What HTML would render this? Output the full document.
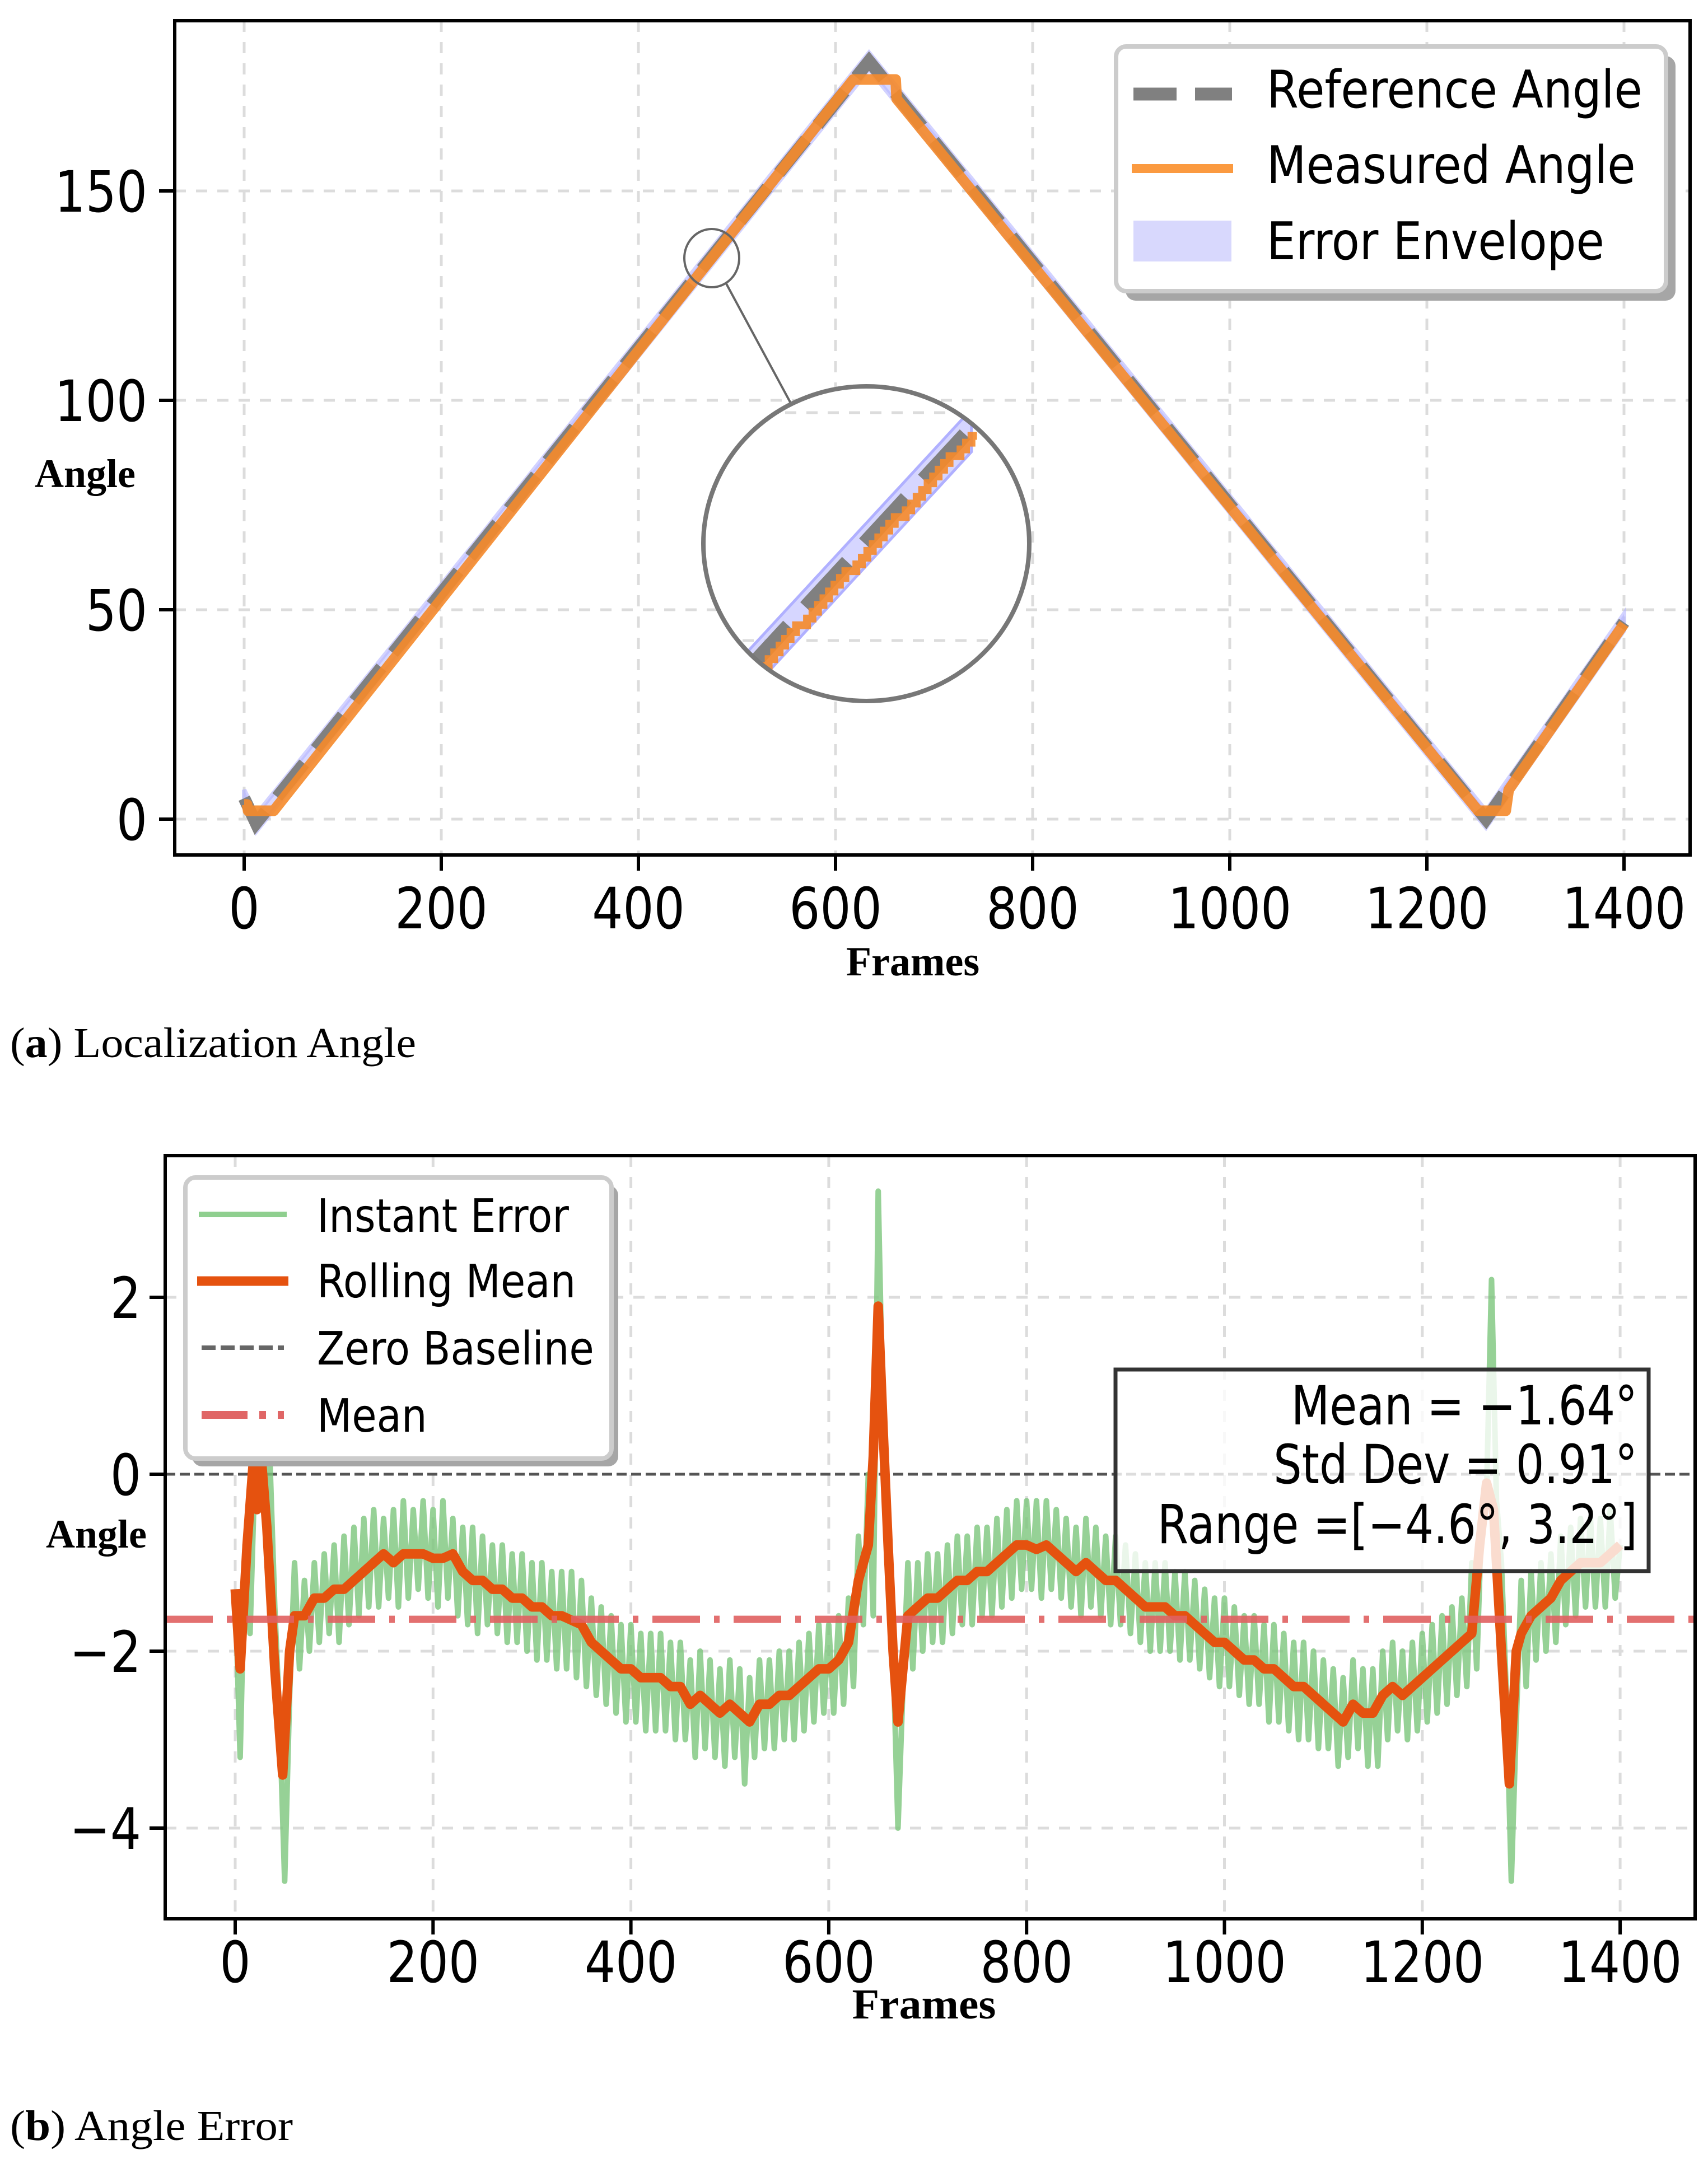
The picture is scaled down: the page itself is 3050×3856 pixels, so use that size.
<!DOCTYPE html>
<html><head><meta charset="utf-8"><title>Localization Angle and Angle Error</title>
<style>
html,body{margin:0;padding:0;background:#fff;}
svg{display:block;}
</style></head>
<body>
<svg id="fig" xmlns="http://www.w3.org/2000/svg" width="3050" height="3856" viewBox="0 0 3050 3856">
<defs>
<clipPath id="clipA"><rect x="312" y="37" width="2706" height="1490"/></clipPath>
<clipPath id="clipB"><rect x="295" y="2064" width="2732" height="1363"/></clipPath>
<clipPath id="clipInset"><ellipse cx="1547" cy="971" rx="288" ry="278"/></clipPath>
</defs>
<rect x="0" y="0" width="3050" height="3856" fill="#fff"/>
<g id="panelA"></g>
<g id="panelB"></g>
</svg>
<script>
// ---------- Panel (a) data ----------
const refFrames = [0, 12, 634, 1260, 1400];
const refValues = [5, -1, 181, 0, 47];
const measFrames = [0, 3, 4, 30, 618, 661, 662, 1252, 1280, 1283, 1400];
const measValues = [3.5, 3.5, 2, 2, 176.6, 176.6, 172, 2, 2, 7, 46.6];
const envHalfWidth = [2, 2, 2, 2, 2];
const xTicksA = [0, 200, 400, 600, 800, 1000, 1200, 1400];
const yTicksA = [0, 50, 100, 150];

// ---------- Panel (b) data ----------
const instStep = 5;
const instValues = [
-1.3,-3.2,-0.8,-1.8,0.1,0.3,-0.2,0.2,-1.5,-2.8,
-4.6,-2.5,-1.0,-2.2,-1.2,-2.0,-1.0,-1.9,-0.9,-1.8,
-0.8,-1.9,-0.7,-1.7,-0.6,-1.6,-0.5,-1.5,-0.4,-1.5,
-0.5,-1.4,-0.4,-1.5,-0.3,-1.4,-0.4,-1.3,-0.3,-1.4,
-0.4,-1.5,-0.3,-1.4,-0.5,-1.6,-0.6,-1.7,-0.6,-1.8,
-0.7,-1.7,-0.8,-1.8,-0.8,-1.9,-0.9,-1.9,-0.9,-2.0,
-1.0,-2.1,-1.0,-2.1,-1.1,-2.2,-1.1,-2.2,-1.1,-2.3,
-1.2,-2.4,-1.4,-2.5,-1.5,-2.6,-1.6,-2.7,-1.7,-2.8,
-1.7,-2.8,-1.8,-2.9,-1.8,-2.9,-1.8,-2.9,-1.9,-3.0,
-1.9,-3.0,-2.1,-3.2,-2.0,-3.1,-2.1,-3.2,-2.2,-3.3,
-2.1,-3.2,-2.2,-3.5,-2.3,-3.2,-2.1,-3.1,-2.1,-3.1,
-2.0,-3.0,-2.0,-3.0,-1.9,-2.9,-1.8,-2.8,-1.7,-2.7,
-1.7,-2.7,-1.6,-2.6,-1.4,-2.4,-0.7,-1.7,0.0,-1.6,
3.2,0.5,-1.0,-2.0,-4.0,-2.4,-1.0,-2.2,-1.0,-2.0,
-0.9,-1.9,-0.9,-1.9,-0.8,-1.8,-0.7,-1.7,-0.7,-1.7,
-0.6,-1.6,-0.6,-1.6,-0.5,-1.5,-0.4,-1.4,-0.3,-1.3,
-0.3,-1.3,-0.3,-1.4,-0.3,-1.3,-0.4,-1.4,-0.5,-1.5,
-0.6,-1.6,-0.5,-1.5,-0.6,-1.6,-0.7,-1.7,-0.7,-1.7,
-0.8,-1.8,-0.9,-1.9,-1.0,-2.0,-1.0,-2.0,-1.0,-2.0,
-1.1,-2.1,-1.1,-2.1,-1.2,-2.2,-1.3,-2.3,-1.4,-2.4,
-1.4,-2.4,-1.5,-2.5,-1.6,-2.6,-1.6,-2.6,-1.7,-2.8,
-1.7,-2.8,-1.8,-2.9,-1.9,-3.0,-1.9,-3.0,-2.0,-3.1,
-2.1,-3.1,-2.2,-3.3,-2.3,-3.2,-2.1,-3.1,-2.2,-3.3,
-2.2,-3.3,-2.0,-3.0,-1.9,-2.9,-2.0,-3.0,-1.9,-2.9,
-1.8,-2.8,-1.7,-2.7,-1.6,-2.6,-1.5,-2.5,-1.4,-2.4,
-1.0,-2.2,-0.5,-0.2,2.2,-0.3,-1.0,-2.5,-4.6,-2.8,
-1.2,-2.4,-1.1,-2.1,-1.0,-2.0,-0.9,-1.9,-0.7,-1.7,
-0.6,-1.6,-0.5,-1.5,-0.5,-1.5,-0.5,-1.5,-0.4,-1.4,
-0.8];
const meanFrames = [0,5,12,18,22,27,32,40,48,55,60,70,80,90,100,110,120,130,140,150,160,170,180,190,200,210,220,230,240,250,260,270,280,290,300,310,320,330,340,350,360,370,380,390,400,410,420,430,440,450,460,470,480,490,500,510,520,530,540,550,560,570,580,590,600,610,620,630,640,645,650,655,660,665,670,680,690,700,710,720,730,740,750,760,770,780,790,800,810,820,830,840,850,860,870,880,890,900,910,920,930,940,950,960,970,980,990,1000,1010,1020,1030,1040,1050,1060,1070,1080,1090,1100,1110,1120,1130,1140,1150,1160,1170,1180,1190,1200,1210,1220,1230,1240,1250,1258,1265,1272,1280,1288,1295,1300,1310,1320,1330,1340,1350,1360,1370,1380,1390,1400];
const meanValues = [-1.3,-2.2,-0.8,0.1,-0.4,0.1,-0.6,-2.2,-3.4,-2.0,-1.6,-1.6,-1.4,-1.4,-1.3,-1.3,-1.2,-1.1,-1.0,-0.9,-1.0,-0.9,-0.9,-0.9,-0.95,-0.95,-0.9,-1.1,-1.2,-1.2,-1.3,-1.3,-1.4,-1.4,-1.5,-1.5,-1.6,-1.6,-1.65,-1.7,-1.9,-2.0,-2.1,-2.2,-2.2,-2.3,-2.3,-2.3,-2.4,-2.4,-2.6,-2.5,-2.6,-2.7,-2.6,-2.7,-2.8,-2.6,-2.6,-2.5,-2.5,-2.4,-2.3,-2.2,-2.2,-2.1,-1.9,-1.2,-0.8,0.2,1.9,0.5,-0.8,-2.0,-2.8,-1.6,-1.5,-1.4,-1.4,-1.3,-1.2,-1.2,-1.1,-1.1,-1.0,-0.9,-0.8,-0.8,-0.85,-0.8,-0.9,-1.0,-1.1,-1.0,-1.1,-1.2,-1.2,-1.3,-1.4,-1.5,-1.5,-1.5,-1.6,-1.6,-1.7,-1.8,-1.9,-1.9,-2.0,-2.1,-2.1,-2.2,-2.2,-2.3,-2.4,-2.4,-2.5,-2.6,-2.7,-2.8,-2.6,-2.7,-2.7,-2.5,-2.4,-2.5,-2.4,-2.3,-2.2,-2.1,-2.0,-1.9,-1.8,-0.8,-0.1,-0.4,-2.0,-3.5,-2.0,-1.8,-1.6,-1.5,-1.4,-1.2,-1.1,-1.0,-1.0,-1.0,-0.9,-0.8];
const overallMean = [-1.64];
const xTicksB = [0, 200, 400, 600, 800, 1000, 1200, 1400];
const yTicksB = [-4, -2, 0, 2];
const yGridB = [-4, -2, 2];

// ---------- helpers ----------
const NS = 'http://www.w3.org/2000/svg';
function mk(tag, attrs, parent) {
  const e = document.createElementNS(NS, tag);
  for (const k in attrs) e.setAttribute(k, attrs[k]);
  if (parent) parent.appendChild(e);
  return e;
}
function txt(parent, x, y, str, size, anchor, sx, family, weight) {
  const t = mk('text', {transform: `translate(${x},${y}) scale(${sx},1)`, x: 0, y: 0,
    'font-size': size, 'text-anchor': anchor, 'font-family': family, 'font-weight': weight || 'normal', fill: '#000'}, parent);
  t.textContent = str;
  return t;
}
const SANS = '"DejaVu Sans", "Liberation Sans", sans-serif';
const SERIF = '"Liberation Serif", "DejaVu Serif", serif';
function interp(fr, vals, f) {
  for (let i = 0; i < fr.length - 1; i++) {
    if (f >= fr[i] && f <= fr[i + 1]) {
      const t = fr[i + 1] === fr[i] ? 0 : (f - fr[i]) / (fr[i + 1] - fr[i]);
      return vals[i] + t * (vals[i + 1] - vals[i]);
    }
  }
  return vals[vals.length - 1];
}

// ---------- Panel (a) ----------
const A = document.getElementById('panelA');
const xA = f => 436 + f * 352 / 200;
const yA = v => 1463 - v * 374 / 50;

xTicksA.forEach(t => {
  const g = mk('line', {x1: xA(t), x2: xA(t), y1: 37, y2: 1527, stroke: '#dcdcdc', 'stroke-width': 5, 'stroke-dasharray': '20,18'}, A);
  
  
});
yTicksA.forEach(t => {
  const g = mk('line', {x1: 312, x2: 3018, y1: yA(t), y2: yA(t), stroke: '#dcdcdc', 'stroke-width': 5, 'stroke-dasharray': '20,18'}, A);
  
  
});

const plotA = mk('g', {'clip-path': 'url(#clipA)'}, A);
(function () {
  let up = [], dn = [];
  for (let i = 0; i < refFrames.length; i++) {
    up.push(`${xA(refFrames[i])},${yA(refValues[i] + envHalfWidth[i])}`);
    dn.unshift(`${xA(refFrames[i])},${yA(refValues[i] - envHalfWidth[i])}`);
  }
  const p = mk('polygon', {points: up.concat(dn).join(' '), fill: '#c8c8ff', 'fill-opacity': 0.7, stroke: '#b4b4ff', 'stroke-width': 8, 'stroke-opacity': 0.6}, plotA);
  
  
})();
const refPts = refFrames.map((f, i) => `${xA(f)},${yA(refValues[i])}`).join(' ');
const refLine = mk('polyline', {points: refPts, fill: 'none', stroke: '#808080', 'stroke-width': 22, 'stroke-dasharray': '77,33'}, plotA);


const measPts = measFrames.map((f, i) => `${xA(f)},${yA(measValues[i])}`).join(' ');
const measLine = mk('polyline', {points: measPts, fill: 'none', stroke: '#f5892a', 'stroke-opacity': 0.9, 'stroke-width': 19, 'stroke-linejoin': 'round'}, plotA);



// inset zoom
(function () {
  const f0 = 462, f1 = 500;
  const v0 = interp(refFrames, refValues, f0), v1 = interp(refFrames, refValues, f1);
  const ix = f => 1353 + (f - f0) / (f1 - f0) * (1725 - 1353);
  const iy = v => 1177 + (v - v0) / (v1 - v0) * (774 - 1177);
  const small = mk('ellipse', {cx: 1271, cy: 461, rx: 49, ry: 52, fill: 'none', stroke: '#666', 'stroke-width': 4}, A);
  
  
  const conn = mk('line', {x1: 1296, x2: 1412, y1: 505, y2: 720, stroke: '#666', 'stroke-width': 4}, A);
  
  
  const bg = mk('ellipse', {cx: 1547, cy: 971, rx: 291, ry: 281, fill: '#fff'}, A);
  
  
  const ig = mk('g', {'clip-path': 'url(#clipInset)'}, A);
  
  
  [737, 1144].forEach(y => mk('line', {x1: 1250, x2: 1850, y1: y, y2: y, stroke: '#dcdcdc', 'stroke-width': 5, 'stroke-dasharray': '20,18'}, ig));
  let up = [], dn = [];
  for (let f = f0 - 2; f <= f1 + 1; f += 1) {
    const r = interp(refFrames, refValues, f);
    up.push(`${ix(f)},${iy(r + 0.9)}`);
    dn.unshift(`${ix(f)},${iy(r - 1.2)}`);
  }
  mk('polygon', {points: up.concat(dn).join(' '), fill: '#c8c8ff', 'fill-opacity': 0.75, stroke: '#b0b0ff', 'stroke-width': 5}, ig);
  mk('line', {x1: ix(f0 - 2), y1: iy(interp(refFrames, refValues, f0 - 2)), x2: ix(f1), y2: iy(interp(refFrames, refValues, f1)), stroke: '#808080', 'stroke-width': 26, 'stroke-dasharray': '110,45'}, ig);
  let mp = [];
  for (let f = f0; f <= f1 + 1; f += 1) {
    const m = Math.floor(interp(measFrames, measValues, f) * 3) / 3;
    mp.push(`${ix(f)},${iy(m)}`, `${ix(f + 1)},${iy(m)}`);
  }
  mk('polyline', {points: mp.join(' '), fill: 'none', stroke: '#f5892a', 'stroke-width': 14, 'stroke-opacity': 0.9}, ig);
  const ring = mk('ellipse', {cx: 1547, cy: 971, rx: 291, ry: 281, fill: 'none', stroke: '#777', 'stroke-width': 8}, A);
  
  
})();

const frameA = mk('rect', {x: 312, y: 37, width: 2706, height: 1490, fill: 'none', stroke: '#000', 'stroke-width': 6}, A);


xTicksA.forEach(t => {
  mk('line', {x1: xA(t), x2: xA(t), y1: 1527, y2: 1555, stroke: '#000', 'stroke-width': 6}, A);
  const l = txt(A, xA(t), 1658, String(t), 102, 'middle', 0.85, SANS);
  
  
});
yTicksA.forEach(t => {
  mk('line', {x1: 284, x2: 312, y1: yA(t), y2: yA(t), stroke: '#000', 'stroke-width': 6}, A);
  const l = txt(A, 263, yA(t) + 37, String(t), 102, 'end', 0.85, SANS);
  
  
});
let lab = txt(A, 1630, 1742, 'Frames', 74, 'middle', 1, SERIF, 'bold');


lab = txt(A, 152, 870, 'Angle', 72, 'middle', 1, SERIF, 'bold');



(function () {
  const lg = mk('g', {}, A);
  
  
  mk('rect', {x: 2010, y: 100, width: 982, height: 437, rx: 18, fill: '#a6a6a6'}, lg);
  mk('rect', {x: 1993, y: 83, width: 982, height: 437, rx: 18, fill: '#fff', stroke: '#cccccc', 'stroke-width': 8}, lg);
  const e1 = mk('line', {x1: 2024, x2: 2200, y1: 168, y2: 168, stroke: '#808080', 'stroke-width': 23, 'stroke-dasharray': '77,33'}, lg);
  
  
  const e2 = mk('line', {x1: 2021, x2: 2202, y1: 301, y2: 301, stroke: '#fb9a40', 'stroke-width': 16}, lg);
  
  
  const e3 = mk('rect', {x: 2024, y: 394, width: 175, height: 73, fill: '#d8d8fd'}, lg);
  
  
  [['Reference Angle', 192], ['Measured Angle', 327], ['Error Envelope', 463]].forEach(([s, y]) => {
    const t = txt(lg, 2262, y, s, 93, 'start', 0.88, SANS);
    
    
  });
})();
lab = mk('text', {x: 18, y: 1888, 'font-size': 76, 'font-family': SERIF, textLength: 725, lengthAdjust: 'spacingAndGlyphs'}, A);
lab.innerHTML = '(<tspan font-weight="bold">a</tspan>) Localization Angle';



// ---------- Panel (b) ----------
const B = document.getElementById('panelB');
const xB = f => 420 + f * 353.3 / 200;
const yB = v => 2633 - v * 158;

xTicksB.forEach(t => {
  const g = mk('line', {x1: xB(t), x2: xB(t), y1: 2064, y2: 3427, stroke: '#dcdcdc', 'stroke-width': 5, 'stroke-dasharray': '20,18'}, B);
  
  
});
yGridB.forEach(t => {
  const g = mk('line', {x1: 295, x2: 3027, y1: yB(t), y2: yB(t), stroke: '#dcdcdc', 'stroke-width': 5, 'stroke-dasharray': '20,18'}, B);
  
  
});
const plotB = mk('g', {'clip-path': 'url(#clipB)'}, B);
const zl = mk('line', {x1: 295, x2: 3027, y1: yB(0), y2: yB(0), stroke: '#555', 'stroke-width': 5, 'stroke-dasharray': '18,8'}, plotB);


const instPts = instValues.map((v, i) => `${xB(i * instStep)},${yB(v)}`).join(' ');
const inst = mk('polyline', {points: instPts, fill: 'none', stroke: '#7cc67c', 'stroke-opacity': 0.8, 'stroke-width': 10, 'stroke-linejoin': 'round'}, plotB);


const meanPts = meanFrames.map((f, i) => `${xB(f)},${yB(meanValues[i])}`).join(' ');
const rm = mk('polyline', {points: meanPts, fill: 'none', stroke: '#e5520f', 'stroke-width': 17, 'stroke-linejoin': 'round'}, plotB);


const ml = mk('line', {x1: 295, x2: 3027, y1: yB(overallMean[0]), y2: yB(overallMean[0]), stroke: '#e06060', 'stroke-opacity': 0.9, 'stroke-width': 13, 'stroke-dasharray': '85,25,10,25'}, plotB);



const frameB = mk('rect', {x: 295, y: 2064, width: 2732, height: 1363, fill: 'none', stroke: '#000', 'stroke-width': 6}, B);


xTicksB.forEach(t => {
  mk('line', {x1: xB(t), x2: xB(t), y1: 3427, y2: 3455, stroke: '#000', 'stroke-width': 6}, B);
  const l = txt(B, xB(t), 3540, String(t), 102, 'middle', 0.85, SANS);
  
  
});
yTicksB.forEach(t => {
  mk('line', {x1: 267, x2: 295, y1: yB(t), y2: yB(t), stroke: '#000', 'stroke-width': 6}, B);
  const l = txt(B, 252, yB(t) + 37, (t < 0 ? '\u2212' : '') + Math.abs(t), 102, 'end', 0.85, SANS);
  
  
});
lab = txt(B, 1650, 3605, 'Frames', 76, 'middle', 1.05, SERIF, 'bold');


lab = txt(B, 172, 2764, 'Angle', 72, 'middle', 1, SERIF, 'bold');



(function () {
  const lg = mk('g', {}, B);
  
  
  mk('rect', {x: 343, y: 2117, width: 761, height: 502, rx: 18, fill: '#a6a6a6'}, lg);
  mk('rect', {x: 331, y: 2103, width: 761, height: 502, rx: 18, fill: '#fff', stroke: '#cccccc', 'stroke-width': 8}, lg);
  const h1 = mk('line', {x1: 355, x2: 512, y1: 2169, y2: 2169, stroke: '#8fcf8f', 'stroke-width': 10}, lg);
  
  
  const h2 = mk('line', {x1: 352, x2: 515, y1: 2288, y2: 2288, stroke: '#e5520f', 'stroke-width': 17}, lg);
  
  
  const h3 = mk('line', {x1: 360, x2: 507, y1: 2407, y2: 2407, stroke: '#666', 'stroke-width': 8, 'stroke-dasharray': '25,9'}, lg);
  
  
  const h4 = mk('line', {x1: 360, x2: 507, y1: 2527, y2: 2527, stroke: '#e06666', 'stroke-width': 14, 'stroke-dasharray': '82,21,12,21,12,40'}, lg);
  
  
  [['Instant Error', 2200], ['Rolling Mean', 2317], ['Zero Baseline', 2437], ['Mean', 2557]].forEach(([s, y]) => {
    const t = txt(lg, 566, y, s, 82, 'start', 0.88, SANS);
    
    
  });
})();

(function () {
  const sg = mk('g', {}, B);
  
  
  mk('rect', {x: 1992, y: 2446, width: 952, height: 360, fill: '#fff', 'fill-opacity': 0.8, stroke: '#333', 'stroke-width': 7}, sg);
  [['Mean = \u22121.64\u00b0', 2544], ['Std Dev = 0.91\u00b0', 2649], ['Range =[\u22124.6\u00b0, 3.2\u00b0]', 2756]].forEach(([s, y]) => {
    const t = txt(sg, 2924, y, s, 96, 'end', 0.83, SANS);
    
    
  });
})();
lab = mk('text', {x: 18, y: 3822, 'font-size': 76, 'font-family': SERIF, textLength: 505, lengthAdjust: 'spacingAndGlyphs'}, B);
lab.innerHTML = '(<tspan font-weight="bold">b</tspan>) Angle Error';


</script>
</body></html>
